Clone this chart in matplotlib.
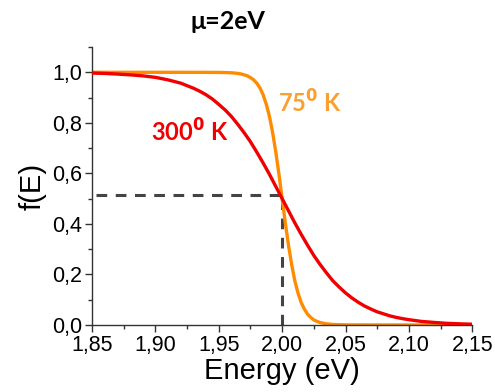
import matplotlib
matplotlib.use("Agg")
import matplotlib.pyplot as plt
from matplotlib.ticker import MultipleLocator, FuncFormatter

# values
energy_300 = [1.85, 1.86, 1.87, 1.88, 1.89, 1.90, 1.91, 1.92, 1.93, 1.935, 1.94, 1.945,
              1.95, 1.955, 1.96, 1.965, 1.97, 1.975, 1.98, 1.985, 1.99, 1.995, 2.00,
              2.005, 2.01, 2.015, 2.02, 2.025, 2.03, 2.035, 2.04, 2.045, 2.05, 2.055,
              2.06, 2.065, 2.07, 2.075, 2.08, 2.085, 2.09, 2.095, 2.10, 2.11, 2.12,
              2.13, 2.14, 2.15]
f_300 = [0.997, 0.9955, 0.993, 0.990, 0.986, 0.980, 0.970, 0.957, 0.937, 0.925, 0.911, 0.894,
         0.873, 0.851, 0.825, 0.794, 0.761, 0.725, 0.684, 0.641, 0.596, 0.548, 0.500,
         0.452, 0.404, 0.359, 0.316, 0.275, 0.239, 0.206, 0.175, 0.150, 0.127, 0.107,
         0.090, 0.075, 0.063, 0.052, 0.044, 0.036, 0.030, 0.025, 0.021, 0.014, 0.010,
         0.0065, 0.0045, 0.003]

energy_75 = [1.85, 1.90, 1.94, 1.95, 1.955, 1.96, 1.9625, 1.965, 1.9675, 1.97, 1.9725,
             1.975, 1.9775, 1.98, 1.9825, 1.985, 1.9875, 1.99, 1.9925, 1.995, 1.9975,
             2.00, 2.0025, 2.005, 2.0075, 2.01, 2.0125, 2.015, 2.0175, 2.02, 2.0225,
             2.025, 2.0275, 2.03, 2.035, 2.04, 2.05, 2.10, 2.15]
f_75 = [1.000, 1.000, 0.9998, 0.9995, 0.999, 0.998, 0.997, 0.9956, 0.9935, 0.990, 0.986,
        0.979, 0.970, 0.957, 0.938, 0.911, 0.873, 0.825, 0.761, 0.684, 0.596,
        0.500, 0.404, 0.316, 0.239, 0.175, 0.127, 0.089, 0.063, 0.043, 0.030,
        0.020, 0.014, 0.0095, 0.0045, 0.002, 0.0004, 0.0, 0.0]

mu = 2.0
f_mu = 0.515

fig = plt.figure(figsize=(4.95, 3.92), dpi=100)
ax = fig.add_axes([0.186, 0.171, 0.768, 0.709])

ax.plot([1.853, mu], [f_mu, f_mu], color="#444444", lw=2.2, ls=(0, (3.5, 2.8)), zorder=1)
ax.plot([mu, mu], [0, f_mu], color="#444444", lw=2.2, ls=(0, (3.5, 2.8)), zorder=1)
ax.plot(energy_75, f_75, color="#ff8c00", lw=2.4, zorder=2)
ax.plot(energy_300, f_300, color="#f00000", lw=2.4, zorder=3)

ax.text(1.927, 0.765, "300$^{\\mathbf{0}}$ K", color="#f00000", fontsize=17,
        fontweight="bold", family="Lato", ha="center", va="center")
ax.text(2.022, 0.877, "75$^{\\mathbf{0}}$ K", color="#f9a030", fontsize=17,
        fontweight="bold", family="Lato", ha="center", va="center")

ax.set_xlim(1.85, 2.15)
ax.set_ylim(0, 1.1)
ax.xaxis.set_major_locator(MultipleLocator(0.05))
ax.xaxis.set_minor_locator(MultipleLocator(0.025))
ax.yaxis.set_major_locator(MultipleLocator(0.2))
ax.yaxis.set_minor_locator(MultipleLocator(0.1))
ax.xaxis.set_major_formatter(FuncFormatter(lambda v, p: f"{v:.2f}".replace(".", ",")))
ax.yaxis.set_major_formatter(FuncFormatter(lambda v, p: f"{v:.1f}".replace(".", ",")))

for s in ["top", "right"]:
    ax.spines[s].set_visible(False)
for s in ["left", "bottom"]:
    ax.spines[s].set_color("#333333")
    ax.spines[s].set_linewidth(1.0)

ax.tick_params(which="major", direction="out", length=5, width=1, color="#333333",
               labelsize=15.5, pad=2)
ax.tick_params(which="minor", direction="out", length=3, width=1, color="#333333")
for lab in ax.get_xticklabels() + ax.get_yticklabels():
    lab.set_family("Liberation Sans")

ax.set_xlabel("Energy (eV)", fontsize=21, family="Liberation Sans", labelpad=1)
ax.set_ylabel("f(E)", fontsize=21, family="Liberation Sans", labelpad=4)
fig.text(0.46, 0.945, "μ=2eV", fontsize=18, fontweight="bold", family="Lato",
         ha="center", va="center")

fig.savefig("out.png", dpi=100)
